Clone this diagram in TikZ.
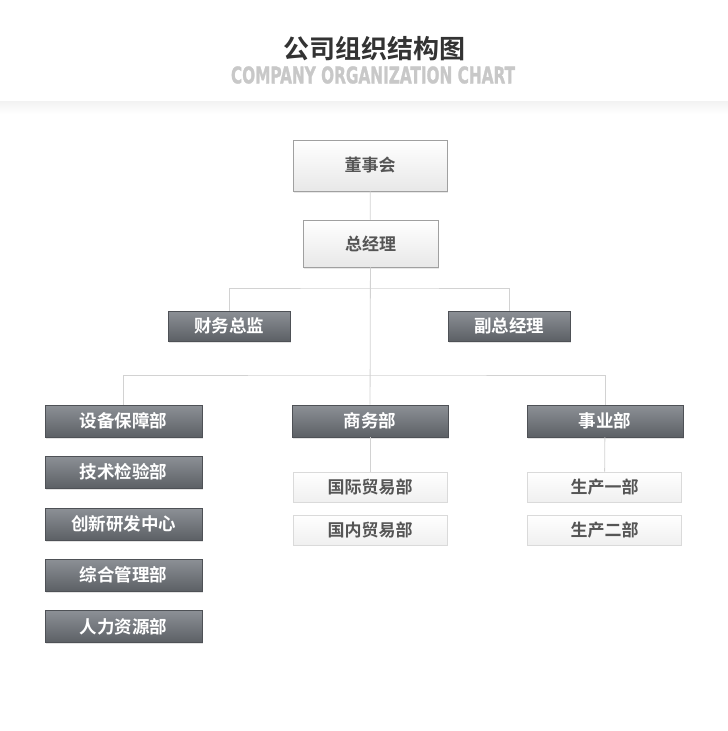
\documentclass[tikz,border=0pt]{standalone}
\usepackage{fontspec}
\usepackage{graphicx}
\usetikzlibrary{shadows}
\newfontfamily\cjk{Noto Sans CJK SC}[BoldFont={Noto Sans CJK SC Bold}]
\newfontfamily\latinhead{DejaVu Sans Condensed Bold}[FakeBold=1.5]

\definecolor{orgtitle}{RGB}{51,51,51}
\definecolor{orgsub}{RGB}{200,200,200}
\definecolor{orgtext}{RGB}{85,85,85}
\definecolor{orgline}{RGB}{210,210,210}
\definecolor{orgdarktop}{RGB}{140,144,150}
\definecolor{orgdarkbot}{RGB}{92,96,101}
\definecolor{orgdarkedge}{RGB}{78,81,86}
\definecolor{orglightedge}{RGB}{160,160,160}
\definecolor{orgpaleedge}{RGB}{218,218,218}

\begin{document}
\begin{tikzpicture}[x=1pt, y=-1pt,
		font=\cjk\bfseries,
		topbox/.style={rectangle, draw=orglightedge, line width=0.6pt,
			top color=white, bottom color=black!9, text=orgtext,
			font=\cjk\bfseries\fontsize{17}{20}\selectfont,
			drop shadow={shadow xshift=1pt, shadow yshift=-1.5pt, fill=black!18}},
		dept/.style={rectangle, draw=orgdarkedge, line width=0.6pt,
			top color=orgdarktop, bottom color=orgdarkbot, text=white,
			font=\cjk\bfseries\fontsize{17.5}{20}\selectfont,
			minimum height=32pt, inner sep=0pt,
			drop shadow={shadow xshift=1.2pt, shadow yshift=-1.8pt, fill=black!22}},
		subdept/.style={rectangle, draw=orgpaleedge, line width=0.6pt,
			top color=white, bottom color=black!6, text=orgtext,
			font=\cjk\bfseries\fontsize{17}{20}\selectfont,
			minimum width=154pt, minimum height=30pt, inner sep=0pt},
		link/.style={draw=orgline, line width=0.8pt}
	]
		\useasboundingbox (0,0) rectangle (728,731);
		% 标题
		\node[text=orgtitle, font=\cjk\bfseries\fontsize{26}{30}\selectfont] (title) at (374,49) {公司组织结构图};
		\node[text=orgsub] (subtitle) at (373,75)
			{\resizebox{284pt}{17pt}{\latinhead COMPANY ORGANIZATION CHART}};
		\shade[top color=black!5, bottom color=white] (0,101) rectangle (728,114);
		% 上层
		\node[topbox, minimum width=154pt, minimum height=51pt] (board) at (370,165.5) {董事会};
		\node[topbox, minimum width=135pt, minimum height=47pt] (gm) at (370.5,243.5) {总经理};
		\node[dept, minimum width=122pt, minimum height=30pt] (cfo) at (229,326) {财务总监};
		\node[dept, minimum width=122pt, minimum height=30pt] (vgm) at (509,326) {副总经理};
		% 部门
		\node[dept, minimum width=157pt] (equip) at (123.5,421) {设备保障部};
		\node[dept, minimum width=157pt] (tech) at (123.5,472) {技术检验部};
		\node[dept, minimum width=157pt] (rnd) at (123.5,524) {创新研发中心};
		\node[dept, minimum width=157pt] (admin) at (123.5,575) {综合管理部};
		\node[dept, minimum width=157pt] (hr) at (123.5,626.5) {人力资源部};
		\node[dept, minimum width=156pt] (biz) at (370,421) {商务部};
		\node[dept, minimum width=156pt] (ops) at (605,421) {事业部};
		% 下属
		\node[subdept] (intl) at (370,487) {国际贸易部};
		\node[subdept] (dom) at (370,530) {国内贸易部};
		\node[subdept] (prod1) at (604.5,487) {生产一部};
		\node[subdept] (prod2) at (604.5,530) {生产二部};
		% 连线
		\coordinate (split1) at (370,288);
		\coordinate (split2) at (370,375);
		\draw[link] (board) -- (gm);
		\draw[link] (gm) -- (biz);
		\draw[link] (cfo.north) |- (split1) -| (vgm.north);
		\draw[link] (equip.north) |- (split2) -| (ops.north);
		\draw[link] (biz) -- (intl);
		\draw[link] (ops) -- (prod1);
	\end{tikzpicture}
\end{document}
